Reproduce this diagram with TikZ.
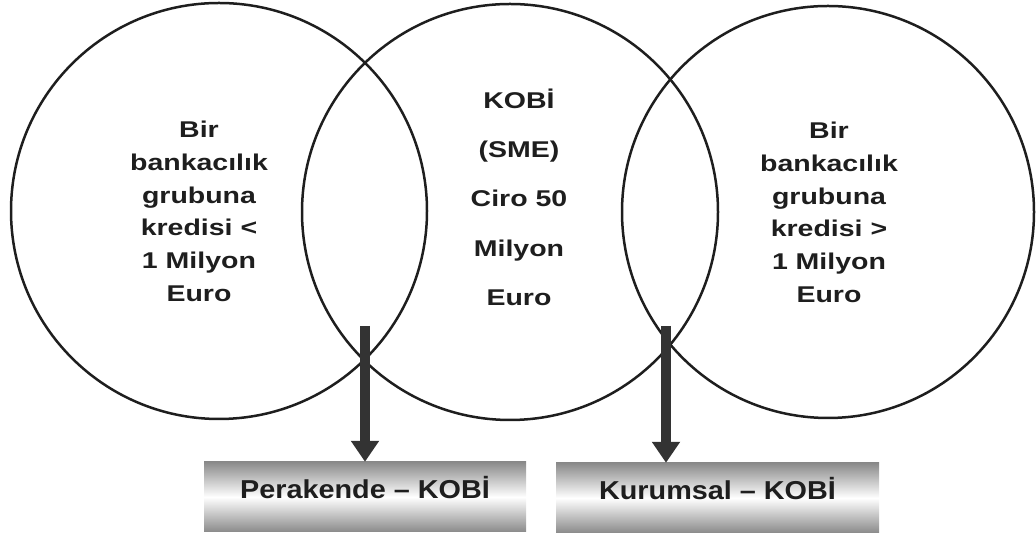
\documentclass[tikz,border=0pt]{standalone}
\usepackage{fontspec}
\usepackage{graphicx}
\setmainfont{Liberation Sans}
\usetikzlibrary{arrows.meta}
\definecolor{ink}{HTML}{1E1E1E}
\definecolor{arrowgray}{HTML}{333333}
\definecolor{shadegray}{HTML}{8A8A8A}
\newcommand{\vsq}[2]{\scalebox{1}[#1]{#2}}
\tikzset{
  venn/.style={draw=ink, line width=2.5pt},
  sidetext/.style={text=ink, font=\fontsize{28.5}{41}\selectfont\bfseries, inner sep=0pt},
  midtext/.style={text=ink, font=\fontsize{28.5}{61.5}\selectfont\bfseries, inner sep=0pt},
  resultbox/.style={top color=shadegray, bottom color=shadegray, middle color=white,
    minimum height=70pt, inner sep=0pt, text=ink,
    font=\fontsize{28.8}{36}\selectfont\bfseries, text height=20pt, text depth=16pt},
  bigarrow/.style={draw=arrowgray, line width=10pt,
    -{Triangle[width=27pt,length=21pt,fill=arrowgray]}, shorten >=0pt}
}
\begin{document}
\begin{tikzpicture}[x=1pt,y=1pt]
\useasboundingbox (0,0) rectangle (1036,534);
% boxes
\node[resultbox, minimum width=322pt] (pk) at (365,37) {\vsq{0.9}{Perakende – KOBİ}};
\node[resultbox, minimum width=323pt] (ku) at (717.5,36) {\vsq{0.9}{Kurumsal – KOBİ}};
% circles
\node[venn, circle, minimum size=416pt, inner sep=0pt] (cl) at (219,323) {};
\node[venn, circle, minimum size=416pt, inner sep=0pt] (cm) at (510,322) {};
\node[venn, circle, minimum size=412pt, inner sep=0pt] (cr) at (828,322) {};
% texts
\node[sidetext] (tl) at (199,321) {\vsq{0.8}{\begin{tabular}{@{}c@{}}Bir\\bankacılık\\grubuna\\kredisi <\\1 Milyon\\Euro\end{tabular}}};
\node[midtext] (tm) at (519,337) {\vsq{0.8}{\begin{tabular}{@{}c@{}}KOBİ\\(SME)\\Ciro 50\\Milyon\\Euro\end{tabular}}};
\node[sidetext] (tr) at (829,320) {\vsq{0.8}{\begin{tabular}{@{}c@{}}Bir\\bankacılık\\grubuna\\kredisi >\\1 Milyon\\Euro\end{tabular}}};
% arrows
\coordinate (la) at (365,208);
\coordinate (ra) at (666,208);
\draw[bigarrow] (la) -- (pk.north);
\draw[bigarrow] (ra) -- (ra |- ku.north);
\end{tikzpicture}
\end{document}
